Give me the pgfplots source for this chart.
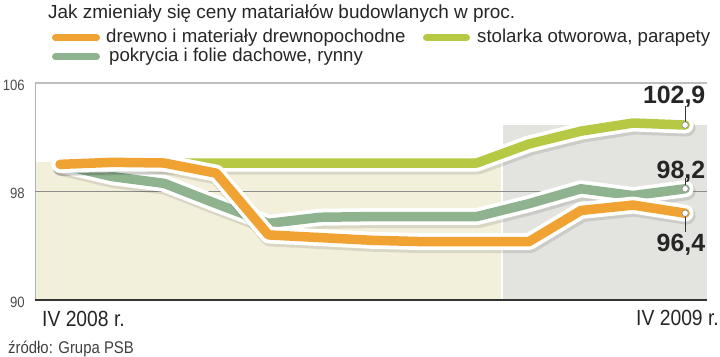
\documentclass[border=0pt]{standalone}
\usepackage{fontspec}
\setmainfont{Liberation Sans}
\newfontfamily\condfont{Liberation Sans}[FakeStretch=0.88]
\usepackage{pgfplots}
\usepackage{pgfplotstable}
\pgfplotsset{compat=1.18}
\definecolor{corange}{HTML}{F0A332}
\definecolor{cgreen}{HTML}{B7C944}
\definecolor{cgray}{HTML}{8FB38E}
\definecolor{cbeige}{HTML}{F2F0DA}
\definecolor{cbg}{HTML}{E3E4DF}

\pgfplotstableread{
x y
0 100.0
1 100.15
2 100.1
3 99.35
4 94.8
5 94.6
6 94.4
7 94.3
8 94.3
9 94.3
10 96.6
11 97.0
12 96.4
}\drewno
\pgfplotstableread{
x y
0 100.0
1 100.05
2 100.1
3 100.1
4 100.1
5 100.1
6 100.1
7 100.1
8 100.1
9 101.5
10 102.45
11 103.05
12 102.9
}\stolarka
\pgfplotstableread{
x y
0 100.0
1 99.1
2 98.6
3 97.1
4 95.65
5 96.1
6 96.15
7 96.15
8 96.15
9 97.1
10 98.2
11 97.7
12 98.2
}\pokrycia

\newcommand{\series}[2]{%
 \addplot[black, opacity=0.10, line width=18bp, line join=round, line cap=round, xshift=1.5bp, yshift=-2.5bp] table {#1};
 \addplot[white, line width=17bp, line join=round, line cap=round] table {#1};
 \addplot[#2, line width=9.5bp, line join=round, line cap=round] table {#1};
}

\begin{document}
\begin{tikzpicture}
\useasboundingbox (0,0) rectangle (720bp,357bp);
% title and legend
\node[anchor=base west, inner sep=0pt, font=\fontsize{19}{19}\selectfont, text=black!85] at (48bp,338.7bp) {Jak zmieniały się ceny matariałów budowlanych w proc.};
\draw[corange, line width=7bp, line cap=round] (55.5bp,319bp) -- (96.5bp,319bp);
\node[anchor=base west, inner sep=0pt, font=\fontsize{18.7}{19}\selectfont, text=black!85] at (106bp,314bp) {drewno i materiały drewnopochodne};
\draw[cgreen, line width=7bp, line cap=round] (426.5bp,319bp) -- (466.5bp,319bp);
\node[anchor=base west, inner sep=0pt, font=\fontsize{18.7}{19}\selectfont, text=black!85] at (477bp,314bp) {stolarka otworowa, parapety};
\draw[cgray, line width=7bp, line cap=round] (55.5bp,300bp) -- (96.5bp,300bp);
\node[anchor=base west, inner sep=0pt, font=\fontsize{18.7}{19}\selectfont, text=black!85] at (109bp,295bp) {pokrycia i folie dachowe, rynny};

\begin{axis}[
  at={(35bp,57bp)}, anchor=south west,
  scale only axis, width=672bp, height=217bp,
  xmin=-0.48, xmax=12.42, ymin=90, ymax=106,
  clip=false,
  axis line style={draw=none},
  xtick=\empty,
  ytick={90,98,106},
  major tick length=0pt,
  /pgf/number format/assume math mode=true,
  yticklabel style={font=\condfont\fontsize{15}{15}\selectfont, text=black!70, inner sep=0pt, xshift=-10bp, yshift=-2bp},
]
% background regions
\addplot[draw=none, fill=cbeige] coordinates {(-0.48,90) (8.47,90) (8.47,100.2) (-0.48,100.2)} -- cycle;
\addplot[draw=none, fill=cbg] coordinates {(8.51,90) (12.42,90) (12.42,102.9) (8.51,102.9)} -- cycle;
% frame and grid
\addplot[black!25, line width=1.2bp] coordinates {(-0.48,106) (12.42,106)};
\addplot[black!30, line width=1bp] coordinates {(-0.48,90) (-0.48,106)};
\addplot[black!45, line width=0.7bp] coordinates {(-0.48,98) (12.42,98)};
\addplot[black!80, line width=1.8bp] coordinates {(-0.48,90) (12.42,90)};
% series
\series{\pokrycia}{cgray}
\series{\stolarka}{cgreen}
\series{\drewno}{corange}
% end annotations
\addplot[black!80, line width=0.8bp] coordinates {(12,102.9) (12,104.3)};
\addplot[black!80, line width=0.8bp] coordinates {(12,98.2) (12,99.0)};
\addplot[black!80, line width=0.8bp] coordinates {(12,96.4) (12,95.0)};
\addplot[only marks, mark=*, mark size=3.2bp, mark options={fill=white, draw=black!45, line width=0.6bp}] coordinates {(12,102.9) (12,98.2) (12,96.4)};
\node[anchor=base, inner sep=0pt, font=\bfseries\fontsize{25}{25}\selectfont, text=black!85] at (axis cs:11.79,104.5) {102,9};
\node[anchor=base, inner sep=0pt, font=\bfseries\fontsize{25}{25}\selectfont, text=black!85] at (axis cs:11.92,98.97) {98,2};
\node[anchor=base, inner sep=0pt, font=\bfseries\fontsize{25}{25}\selectfont, text=black!85] at (axis cs:11.92,93.56) {96,4};
\end{axis}

% x labels and source
\node[anchor=base west, inner sep=0pt, font=\condfont\fontsize{22}{22}\selectfont, text=black!85] at (42bp,31bp) {IV 2008 r.};
\node[anchor=base east, inner sep=0pt, font=\condfont\fontsize{22}{22}\selectfont, text=black!85] at (719bp,32bp) {IV 2009 r.};
\node[anchor=base west, inner sep=0pt, font=\condfont\fontsize{17}{17}\selectfont, text=black!75] at (8bp,4bp) {źródło: Grupa PSB};
\end{tikzpicture}
\end{document}
